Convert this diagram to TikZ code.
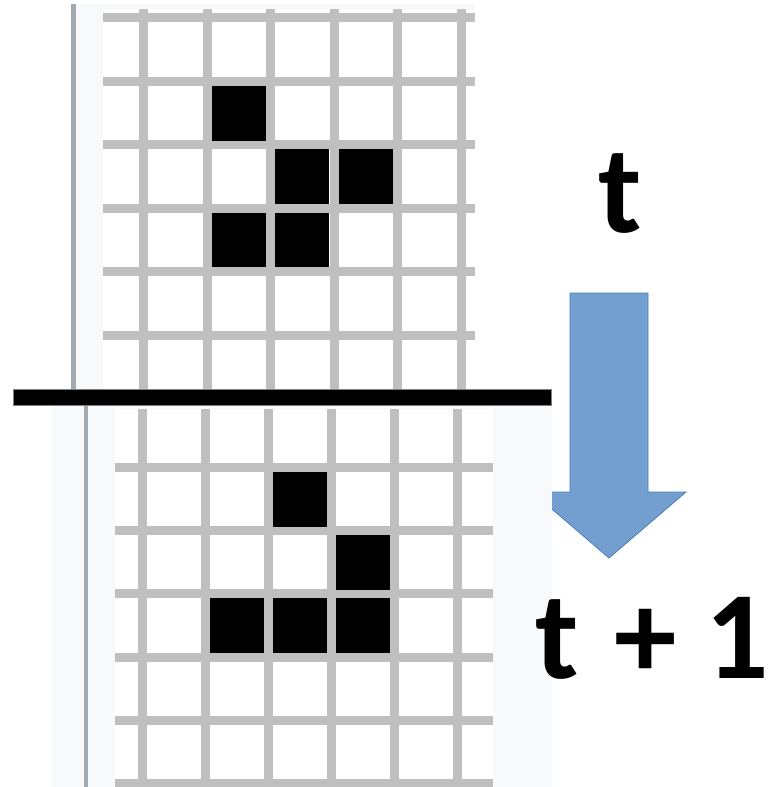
\documentclass[tikz,border=0pt]{standalone}
\usepackage{fontspec}
\setmainfont{Carlito}
\usetikzlibrary{positioning}

\definecolor{panelbg}{RGB}{248,249,250}
\definecolor{panelrule}{RGB}{162,169,177}
\definecolor{gridgray}{RGB}{191,191,191}
\definecolor{arrowblue}{RGB}{114,159,207}
\definecolor{arrowedge}{RGB}{74,126,187}

\begin{document}
\begin{tikzpicture}[x=1pt,y=-1pt]
    \tikzset{
    panel/.style={
        fill=panelbg,
        draw=none
    },
    gridline/.style={
        gridgray,
        line width=9pt
    },
    livecell/.style={
        fill=black
    },
    timelabel/.style={
        font=\fontsize{125}{130}\selectfont\bfseries,
        inner sep=0pt,
        anchor=base
    }
}
        \useasboundingbox (0,0) rectangle (772,787);

        % generation t
        \fill[panel] (71,4) rectangle (475,389);
        \fill[panelrule] (71,4) rectangle (76,389);
        \fill[white] (103,9) rectangle (475,389);
        \foreach \x in {143.5,207.5,270.5,334.5,397.5,461.5}
            \draw[gridline] (\x,9) -- (\x,389);
        \foreach \y in {17.5,81.5,144.5,208,271.5,335.5}
            \draw[gridline] (103,\y) -- (475,\y);
        \foreach \cx/\cy in {212/86, 275/149, 339/149, 212/212.5, 275/212.5}
            \fill[livecell] (\cx,\cy) rectangle ++(54,54.5);

        % step arrow
        \draw[fill=arrowblue, draw=arrowedge, line width=0.8pt]
            (570,293) -- (648,293) -- (648,492) -- (686,492) -- (609,558)
            -- (532,492) -- (570,492) -- cycle;

        % generation t + 1
        \fill[panel] (52,405) rectangle (552,787);
        \fill[panelrule] (84,405) rectangle (88,787);
        \fill[white] (115,409) rectangle (493,787);
        \foreach \x in {142.5,205.5,268.5,331.5,394.5,457.5}
            \draw[gridline] (\x,409) -- (\x,787);
        \foreach \y in {467.5,530.5,593.5,657,720.5,783}
            \draw[gridline] (115,\y) -- (493,\y);
        \foreach \cx/\cy in {273/472, 336/535, 210/598, 273/598, 336/598}
            \fill[livecell] (\cx,\cy) rectangle ++(54,54.5);

        % divider
        \draw[fill=black, draw=gray, line width=0.6pt] (13.5,389.5) rectangle (551.5,405);

        \node[timelabel] (Now) at (620,232) {t};
        \node[timelabel] (Next) at (652,678) {t\hspace{8pt} + 1};
    \end{tikzpicture}
\end{document}
